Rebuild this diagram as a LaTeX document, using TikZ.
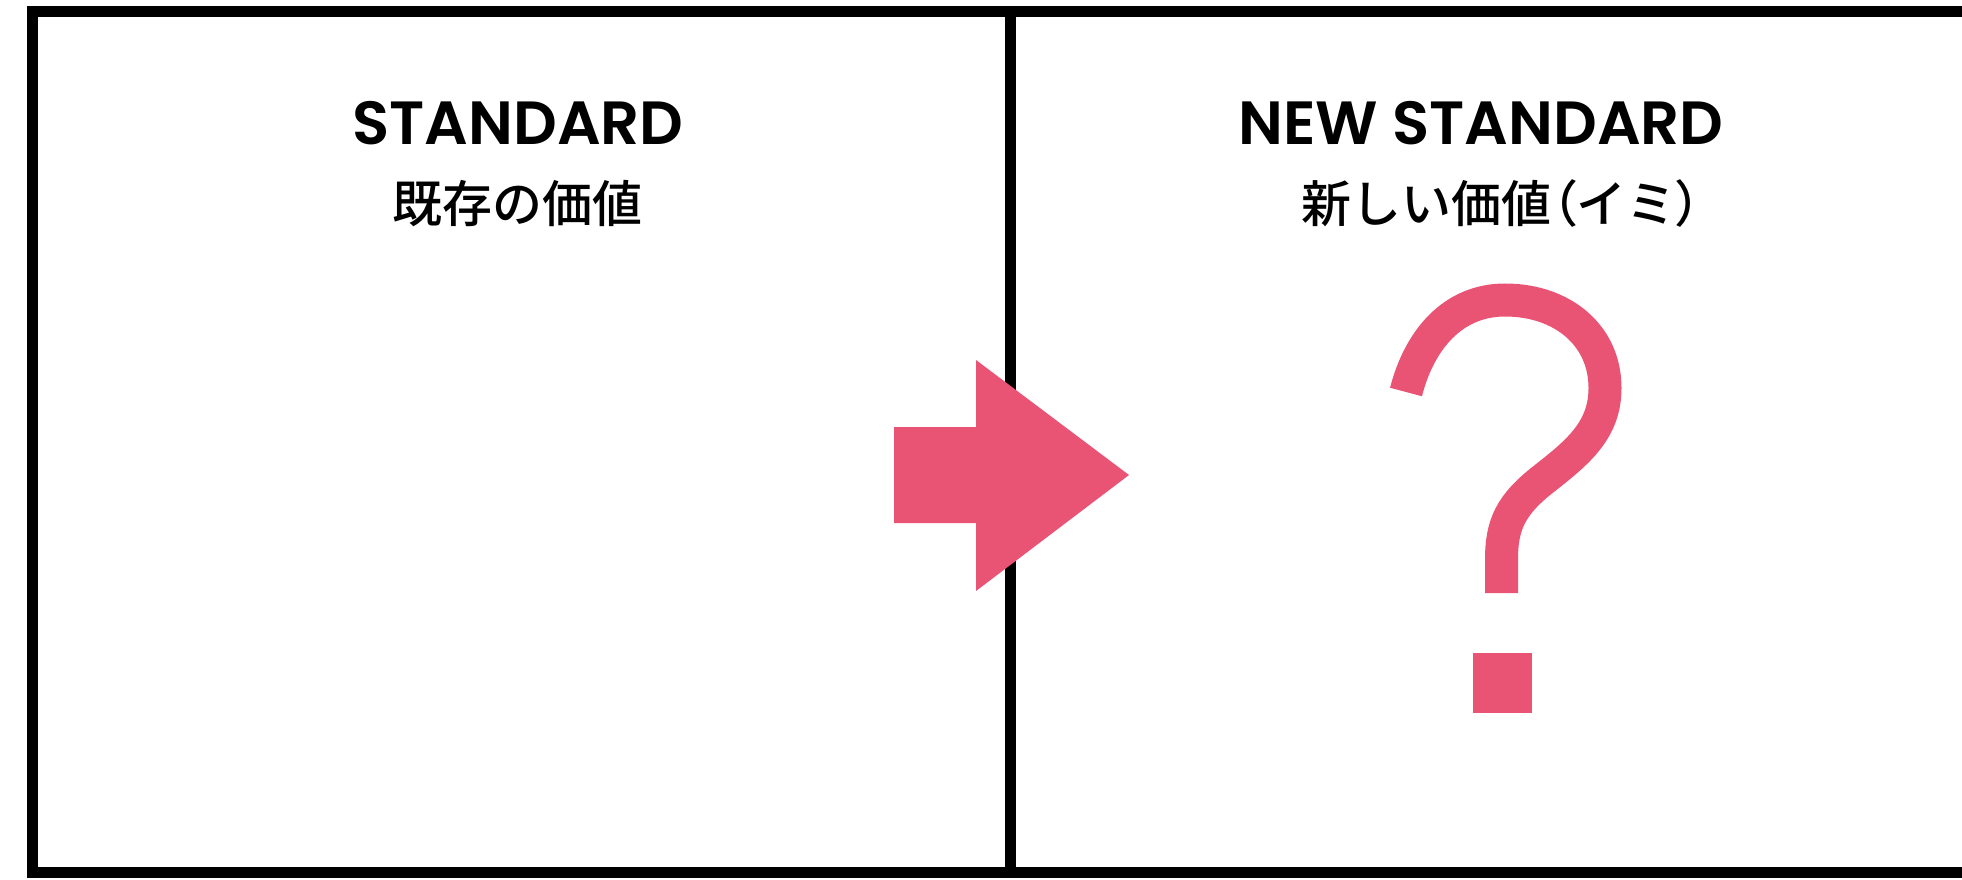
\documentclass[tikz,border=0pt]{standalone}
\usepackage{fontspec}
\setmainfont{Poppins}
\newfontfamily\titlefont{Poppins SemiBold}
\newfontfamily\jpfont{Noto Sans CJK JP Medium}
\definecolor{accent}{RGB}{233,84,117}
\tikzset{
  frame/.style={line width=11pt, draw=black},
  titletext/.style={inner sep=0pt, anchor=base, font=\titlefont\fontsize{61}{72}\selectfont},
  subtext/.style={inner sep=0pt, anchor=base west, font=\jpfont\fontsize{50}{60}\selectfont},
  bigarrow/.style={fill=accent, draw=none},
  qstroke/.style={draw=accent, line width=33pt, line cap=butt},
}
\newcommand{\palt}[1]{{\addfontfeature{RawFeature=+palt}#1}}
\begin{document}
\begin{tikzpicture}[x=1pt,y=-1pt]
\useasboundingbox (0,0) rectangle (1962,880);
% frame
\draw[frame] (1962,11.5) -- (32,11.5) -- (32,872) -- (1962,872);
\draw[frame] (1010,11.5) -- (1010,872);
% titles
\node[titletext] (t1) at (518,145) {STANDARD};
\node[subtext] (s1) at (392,222) {既存の価値};
\node[titletext] (t2) at (1481,145) {NEW STANDARD};
\node[subtext] (s2) at (1301,222) {新しい価値\palt{（}イミ\palt{）}};
% arrow
\fill[bigarrow] (894,427) -- (976,427) -- (976,360) -- (1129,475) -- (976,591) -- (976,523) -- (894,523) -- cycle;
% question mark
\draw[qstroke] (1406,392) .. controls (1419,341) and (1452,300) .. (1505,300)
  .. controls (1562,300) and (1605,335) .. (1605,388)
  .. controls (1605,430) and (1578,452) .. (1545,478)
  .. controls (1510,505) and (1501.5,525) .. (1501.5,560)
  -- (1501.5,593);
\fill[accent] (1473,653) rectangle (1532,713);
\end{tikzpicture}
\end{document}
